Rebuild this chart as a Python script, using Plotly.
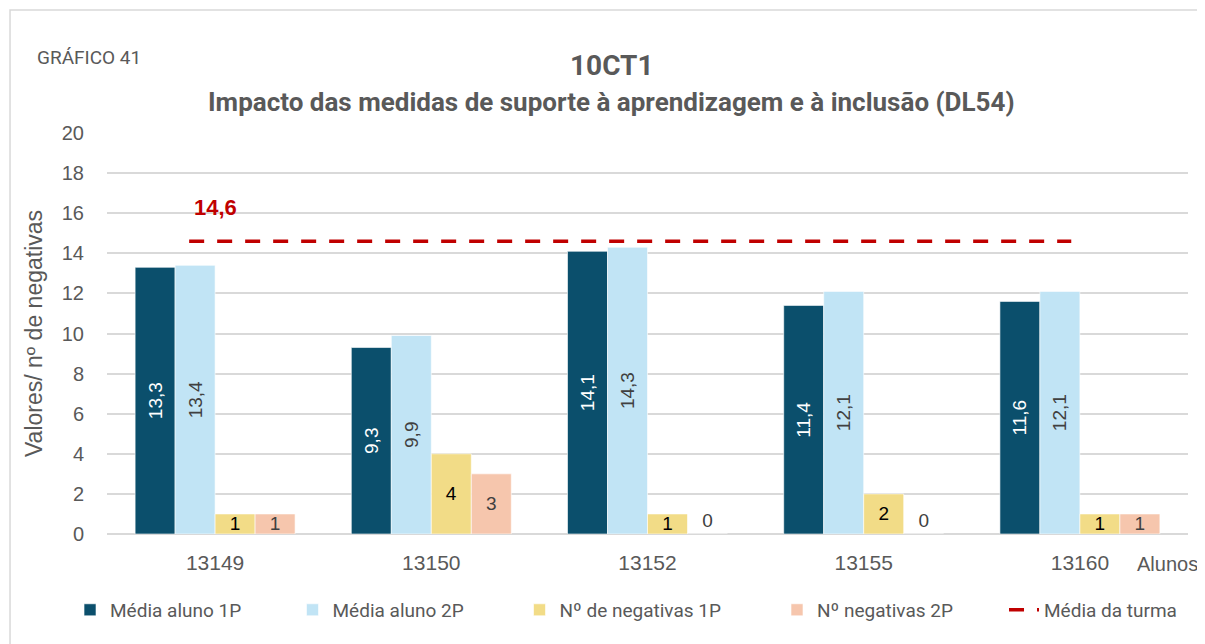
import plotly.graph_objects as go

categories = ["13149", "13150", "13152", "13155", "13160"]
media_1p = [13.3, 9.3, 14.1, 11.4, 11.6]
media_2p = [13.4, 9.9, 14.3, 12.1, 12.1]
neg_1p = [1, 4, 1, 2, 1]
neg_2p = [1, 3, 0, 0, 1]
media_turma = 14.6
y_ticks = [0, 2, 4, 6, 8, 10, 12, 14, 16, 18, 20]

idx = list(range(len(categories)))
GRAY = "#595959"
TXT = "Liberation Sans"
NARROW = "Roboto, sans-serif"
LEGEND_X = [-0.0342, 0.1716, 0.3816, 0.6198, 0.8298]

fig = go.Figure()


def fmt_val(v, decimals):
    return f"{v:.{decimals}f}".replace(".", ",")


def bar(name, vals, color, decimals, angle, tcolor, leg):
    pos = ["inside" if v != 0 else "outside" for v in vals]
    fig.add_trace(go.Bar(
        x=idx, y=vals, name=name, legend=leg,
        marker=dict(color=color, line=dict(color="white", width=0.6)),
        text=[fmt_val(v, decimals) for v in vals], texttemplate="%{text}",
        textposition=pos, textangle=angle,
        insidetextanchor="middle", constraintext="none",
        textfont=dict(family=TXT, size=19, color=tcolor),
        outsidetextfont=dict(family=TXT, size=19, color="#404040"),
        cliponaxis=False,
    ))


bar("Média aluno 1P", media_1p, "#0B4F6C", 1, -90, "white", "legend")
bar("Média aluno 2P", media_2p, "#C1E4F5", 1, -90, "#404040", "legend2")
bar("Nº de negativas 1P", neg_1p, "#F2DC87", 0, 0, "black", "legend3")
bar("Nº negativas 2P", neg_2p, "#F6C6AD", 0, 0, "#404040", "legend4")

line_x = [idx[0] - 0.12, idx[-1] - 0.04]
fig.add_trace(go.Scatter(
    x=line_x, y=[media_turma, media_turma], mode="lines",
    name="Média da turma", legend="legend5",
    line=dict(color="#C00000", width=3.5, dash="15px,13px"),
))

fig.add_annotation(x=idx[0], y=media_turma + 1.7, xref="x", yref="y",
                   text="<b>" + fmt_val(media_turma, 1) + "</b>",
                   showarrow=False, font=dict(family=TXT, size=22, color="#C00000"))

fig.add_annotation(x=0.467, y=1.2145, xref="paper", yref="paper",
                   text="<b>10CT1</b>", showarrow=False,
                   font=dict(family=NARROW, size=28, color=GRAY))
fig.add_annotation(x=0.467, y=1.1197, xref="paper", yref="paper",
                   text="<b>Impacto das medidas de suporte à aprendizagem e à inclusão (DL54)</b>",
                   showarrow=False, font=dict(family=NARROW, size=26, color=GRAY))
fig.add_annotation(x=-0.0666, y=1.222, xref="paper", yref="paper", xanchor="left",
                   text="GRÁFICO 41", showarrow=False,
                   font=dict(family=NARROW, size=19, color=GRAY))
fig.add_annotation(x=1.011, y=-0.0748, xref="paper", yref="paper",
                   xanchor="right", yanchor="middle",
                   text="Alunos", showarrow=False,
                   font=dict(family=TXT, size=20, color=GRAY))

fig.add_shape(type="rect", xref="paper", yref="paper",
              x0=-0.0897, x1=1.03, y0=-0.30, y1=1.307,
              line=dict(color="#D9D9D9", width=1.5), layer="below")

legends = {}
for i, lx in enumerate(LEGEND_X):
    key = "legend" if i == 0 else f"legend{i + 1}"
    legends[key] = dict(orientation="h", x=lx, y=-0.142, xanchor="left", yanchor="top",
                        font=dict(family=NARROW, size=19, color=GRAY),
                        bgcolor="rgba(0,0,0,0)")

fig.update_layout(
    width=1205, height=644,
    margin=dict(l=99, r=25, t=125, b=118),
    paper_bgcolor="white", plot_bgcolor="white",
    separators=",.",
    barmode="group", bargap=0.26, bargroupgap=0,
    showlegend=True,
    xaxis=dict(range=[-0.5, 4.5], tickmode="array", tickvals=idx, ticktext=categories,
               showgrid=False, zeroline=False, showline=False, ticks="",
               ticklabelstandoff=14,
               tickfont=dict(family=TXT, size=21, color=GRAY)),
    yaxis=dict(range=[0, 20], tickmode="array", tickvals=y_ticks,
               showgrid=True, gridcolor="#D9D9D9", gridwidth=1.5,
               zeroline=True, zerolinecolor="#D9D9D9", zerolinewidth=1.5,
               showline=False, ticks="", ticklabelstandoff=22,
               tickfont=dict(family=TXT, size=20, color=GRAY),
               title=dict(text="Valores/ nº de negativas", standoff=12,
                          font=dict(family=TXT, size=23, color=GRAY))),
    **legends,
)

fig.write_html("out.html")
